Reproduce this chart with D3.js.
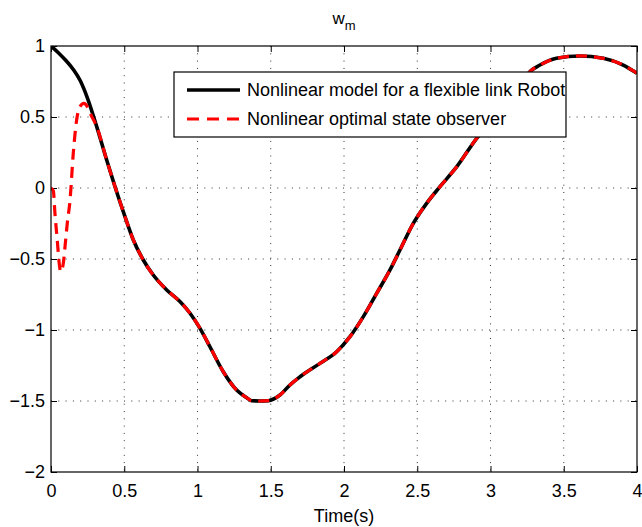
<!DOCTYPE html>
<html>
<head>
<meta charset="utf-8">
<script src="https://cdn.jsdelivr.net/npm/d3@7"></script>
<style>
  body { margin: 0; background: #fff; }
  text { font-family: "Liberation Sans", Arial, sans-serif; fill: #000; }
</style>
</head>
<body>
<script>
// model response (black solid)
var modelT = [0, 0.05, 0.1, 0.152, 0.2, 0.25, 0.312, 0.38, 0.437, 0.505, 0.562, 0.63,
  0.698, 0.79, 0.88, 0.949, 1.017, 1.085, 1.176, 1.267, 1.34, 1.37, 1.43, 1.483, 1.563,
  1.631, 1.70, 1.836, 1.95, 2.041, 2.132, 2.223, 2.314, 2.382, 2.473, 2.564, 2.655, 2.77,
  2.906, 3.0, 3.1, 3.2, 3.27, 3.338, 3.45, 3.61, 3.77, 3.906, 4.0];
var modelW = [1, 0.953, 0.9, 0.835, 0.755, 0.63, 0.432, 0.197, 0.009, -0.202, -0.366, -0.507,
  -0.613, -0.718, -0.80, -0.882, -0.988, -1.118, -1.294, -1.423, -1.48, -1.498, -1.50, -1.498, -1.458,
  -1.387, -1.329, -1.235, -1.153, -1.047, -0.906, -0.742, -0.577, -0.437, -0.249, -0.108, 0.009, 0.15,
  0.35, 0.46, 0.58, 0.71, 0.82, 0.866, 0.913, 0.93, 0.913, 0.866, 0.808];

// observer start (red dashed), joins the model afterwards
var obsT = [0, 0.016, 0.027, 0.043, 0.055, 0.066, 0.084, 0.096, 0.111, 0.13, 0.152, 0.175,
  0.198, 0.225, 0.25, 0.275, 0.3];
var obsW = [0, -0.02, -0.18, -0.37, -0.52, -0.59, -0.53, -0.41, -0.249, -0.085, 0.244, 0.479,
  0.573, 0.596, 0.57, 0.51, 0.46];

var xTicks = [0, 0.5, 1, 1.5, 2, 2.5, 3, 3.5, 4];
var xTickLabels = ["0", "0.5", "1", "1.5", "2", "2.5", "3", "3.5", "4"];
var yTicks = [-2, -1.5, -1, -0.5, 0, 0.5, 1];
var yTickLabels = ["\u22122", "\u22121.5", "\u22121", "\u22120.5", "0", "0.5", "1"];

var legendNames = ["Nonlinear model for a flexible link Robot", "Nonlinear optimal state observer"];

var W = 642, H = 527;
var margin = {top: 46, right: 5, bottom: 55, left: 51};
var width = W - margin.left - margin.right;
var height = H - margin.top - margin.bottom;

var x = d3.scaleLinear().domain([0, 4]).range([0, width]);
var y = d3.scaleLinear().domain([-2, 1]).range([height, 0]);

var svg = d3.select("body").append("svg")
    .attr("width", W)
    .attr("height", H);

var g = svg.append("g")
    .attr("transform", "translate(" + margin.left + "," + margin.top + ")");

// dotted grid
g.append("g").selectAll("line.vgrid")
    .data(xTicks.slice(1, -1))
    .enter().append("line")
    .attr("x1", function(d) { return x(d); })
    .attr("x2", function(d) { return x(d); })
    .attr("y1", 0).attr("y2", height)
    .attr("stroke", "#333").attr("stroke-width", 1)
    .attr("stroke-dasharray", "1,6.3");

g.append("g").selectAll("line.hgrid")
    .data(yTicks.slice(1, -1))
    .enter().append("line")
    .attr("y1", function(d) { return y(d); })
    .attr("y2", function(d) { return y(d); })
    .attr("x1", 0).attr("x2", width)
    .attr("stroke", "#333").attr("stroke-width", 1)
    .attr("stroke-dasharray", "1,6.3");

// axes with inward ticks on all four sides
var tickLen = 6;
g.append("g")
    .attr("transform", "translate(0," + height + ")")
    .call(d3.axisBottom(x).tickValues(xTicks).tickSizeInner(-tickLen).tickSizeOuter(0)
      .tickPadding(12).tickFormat(function(d, i) { return xTickLabels[i]; }))
    .call(function(a) {
      a.select(".domain").remove();
      a.selectAll("text").attr("font-size", 18).attr("font-family", "Liberation Sans, Arial, sans-serif");
    });

g.append("g")
    .call(d3.axisLeft(y).tickValues(yTicks).tickSizeInner(-tickLen).tickSizeOuter(0)
      .tickPadding(6).tickFormat(function(d, i) { return yTickLabels[i]; }))
    .call(function(a) {
      a.select(".domain").remove();
      a.selectAll("text").attr("font-size", 18).attr("font-family", "Liberation Sans, Arial, sans-serif");
    });

g.append("g")
    .call(d3.axisTop(x).tickValues(xTicks).tickSizeInner(-tickLen).tickSizeOuter(0).tickFormat(""))
    .call(function(a) { a.select(".domain").remove(); });

g.append("g")
    .attr("transform", "translate(" + width + ",0)")
    .call(d3.axisRight(y).tickValues(yTicks).tickSizeInner(-tickLen).tickSizeOuter(0).tickFormat(""))
    .call(function(a) { a.select(".domain").remove(); });

// curves
svg.append("defs").append("clipPath").attr("id", "plotclip")
    .append("rect").attr("width", width).attr("height", height);

var line = d3.line()
    .x(function(d) { return x(d[0]); })
    .y(function(d) { return y(d[1]); })
    .curve(d3.curveMonotoneX);

var modelPts = modelT.map(function(t, i) { return [t, modelW[i]]; });
var obsPts = obsT.map(function(t, i) { return [t, obsW[i]]; })
    .concat(modelPts.filter(function(p) { return p[0] > 0.31; }));

var curves = g.append("g").attr("clip-path", "url(#plotclip)");

curves.append("path")
    .attr("d", line(modelPts))
    .attr("fill", "none")
    .attr("stroke", "#000")
    .attr("stroke-width", 3.6);

curves.append("path")
    .attr("d", line(obsPts))
    .attr("fill", "none")
    .attr("stroke", "#ff0000")
    .attr("stroke-width", 3.2)
    .attr("stroke-dasharray", "11,7");

// plot box
g.append("rect")
    .attr("width", width).attr("height", height)
    .attr("fill", "none").attr("stroke", "#000").attr("stroke-width", 1.2);

// legend
var legend = svg.append("g").attr("transform", "translate(174,72)");
legend.append("rect")
    .attr("width", 392).attr("height", 65)
    .attr("fill", "#fff").attr("stroke", "#000").attr("stroke-width", 1.2);

var rows = legend.selectAll("g.row").data(legendNames).enter().append("g")
    .attr("transform", function(d, i) { return "translate(0," + (18 + i * 29) + ")"; });

rows.append("line")
    .attr("x1", 13).attr("x2", 66).attr("y1", 0).attr("y2", 0)
    .attr("stroke", function(d, i) { return i === 0 ? "#000" : "#ff0000"; })
    .attr("stroke-width", function(d, i) { return i === 0 ? 3.6 : 3.2; })
    .attr("stroke-dasharray", function(d, i) { return i === 0 ? null : "12,8"; });

rows.append("text")
    .attr("x", 73).attr("y", 0).attr("dy", "0.35em")
    .attr("font-size", 18)
    .text(function(d) { return d; });

// title and x label
var title = svg.append("text")
    .attr("x", margin.left + width / 2).attr("y", 24)
    .attr("text-anchor", "middle").attr("font-size", 17);
title.append("tspan").text("w");
title.append("tspan").attr("dy", 6).attr("font-size", 13).text("m");

svg.append("text")
    .attr("x", margin.left + width / 2).attr("y", 522)
    .attr("text-anchor", "middle").attr("font-size", 18)
    .text("Time(s)");
</script>
</body>
</html>
